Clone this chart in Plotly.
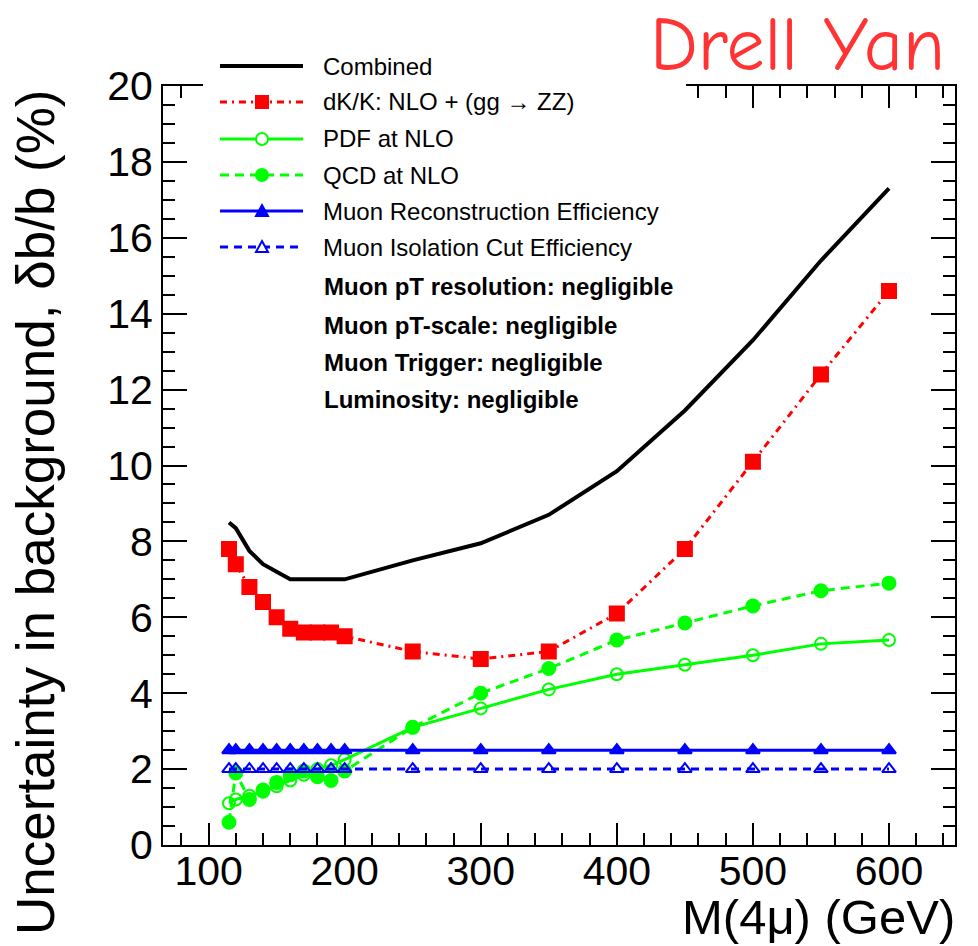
import plotly.graph_objects as go

# Four-muon invariant mass points (GeV)
mass = [115, 120, 130, 140, 150, 160, 170, 180, 190, 200, 250, 300, 350, 400, 450, 500, 550, 600]

# Relative background uncertainties (%)
combined = [8.5, 8.35, 7.75, 7.4, 7.2, 7.0, 7.0, 7.0, 7.0, 7.0, 7.5, 7.95, 8.7, 9.85, 11.45, 13.3, 15.4, 17.3]
dk_nlo = [7.8, 7.4, 6.8, 6.4, 6.0, 5.7, 5.6, 5.6, 5.6, 5.5, 5.1, 4.9, 5.1, 6.1, 7.8, 10.1, 12.4, 14.6]
pdf_nlo = [1.1, 1.2, 1.3, 1.4, 1.55, 1.7, 1.85, 2.0, 2.1, 2.25, 3.1, 3.6, 4.1, 4.5, 4.75, 5.0, 5.3, 5.4]
qcd_nlo = [0.6, 1.9, 1.2, 1.45, 1.65, 1.85, 1.95, 1.8, 1.7, 1.95, 3.1, 4.0, 4.65, 5.4, 5.85, 6.3, 6.7, 6.9]
mu_reco = [2.5, 2.5, 2.5, 2.5, 2.5, 2.5, 2.5, 2.5, 2.5, 2.5, 2.5, 2.5, 2.5, 2.5, 2.5, 2.5, 2.5, 2.5]
mu_iso = [2.0, 2.0, 2.0, 2.0, 2.0, 2.0, 2.0, 2.0, 2.0, 2.0, 2.0, 2.0, 2.0, 2.0, 2.0, 2.0, 2.0, 2.0]

x_ticks = [100, 200, 300, 400, 500, 600]

legend_labels = [
    "Combined",
    "dK/K: NLO + (gg \u2192 ZZ)",
    "PDF at NLO",
    "QCD at NLO",
    "Muon Reconstruction Efficiency",
    "Muon Isolation Cut Efficiency",
]
negligible_notes = [
    "Muon pT resolution: negligible",
    "Muon pT-scale: negligible",
    "Muon Trigger: negligible",
    "Luminosity: negligible",
]

FONT = "Liberation Sans, Arial, Helvetica, sans-serif"
BLACK, RED, GREEN, BLUE = "#000000", "#ff0000", "#00ff00", "#0000ff"

fig = go.Figure()

series = [
    dict(y=combined, color=BLACK, width=4, dash="solid", symbol=None),
    dict(y=dk_nlo, color=RED, width=3, dash="7px,5px,2px,5px", symbol="square"),
    dict(y=pdf_nlo, color=GREEN, width=3, dash="solid", symbol="circle-open"),
    dict(y=qcd_nlo, color=GREEN, width=3, dash="9px,6px", symbol="circle"),
    dict(y=mu_reco, color=BLUE, width=3, dash="solid", symbol="triangle-up"),
    dict(y=mu_iso, color=BLUE, width=3, dash="8px,6px", symbol="triangle-up-open"),
]
for s, name in zip(series, legend_labels):
    if s["symbol"] is None:
        fig.add_trace(go.Scatter(x=mass, y=s["y"], name=name, mode="lines",
                                 line=dict(color=s["color"], width=s["width"])))
    else:
        size = {"square": 14, "circle": 13, "circle-open": 12}.get(s["symbol"], 12)
        fig.add_trace(go.Scatter(
            x=mass, y=s["y"], name=name, mode="lines+markers",
            line=dict(color=s["color"], width=s["width"], dash=s["dash"]),
            marker=dict(symbol=s["symbol"], size=size, color=s["color"],
                        line=dict(color=s["color"], width=2)),
        ))

# pixel helpers for the hand-made legend box
L, T, W, H = 163, 86, 792, 759


def px(x):
    return (x - L) / W


def py(y):
    return 1 - (y - T) / H


shapes = [
    # white legend background sitting over the top frame
    dict(type="rect", xref="paper", yref="paper", layer="above",
         x0=px(203), x1=px(686), y0=py(40), y1=py(113),
         fillcolor="white", line=dict(width=0)),
]
annotations = []
row_y = [66, 102, 139, 175, 211, 247]
for s, name, yy in zip(series, legend_labels, row_y):
    shapes.append(dict(type="line", xref="paper", yref="paper", layer="above",
                       x0=px(220), x1=px(303), y0=py(yy), y1=py(yy),
                       line=dict(color=s["color"], width=s["width"], dash=s["dash"])))
    cx = 262
    sym = s["symbol"]
    if sym == "square":
        shapes.append(dict(type="rect", xref="paper", yref="paper", layer="above",
                           x0=px(cx - 7), x1=px(cx + 7), y0=py(yy + 7), y1=py(yy - 7),
                           fillcolor=s["color"], line=dict(width=0)))
    elif sym in ("circle", "circle-open"):
        shapes.append(dict(type="circle", xref="paper", yref="paper", layer="above",
                           x0=px(cx - 6), x1=px(cx + 6), y0=py(yy + 6), y1=py(yy - 6),
                           fillcolor=s["color"] if sym == "circle" else "white",
                           line=dict(color=s["color"], width=2)))
    elif sym in ("triangle-up", "triangle-up-open"):
        path = "M {:.5f},{:.5f} L {:.5f},{:.5f} L {:.5f},{:.5f} Z".format(
            px(cx - 6), py(yy + 5), px(cx + 6), py(yy + 5), px(cx), py(yy - 6))
        shapes.append(dict(type="path", xref="paper", yref="paper", layer="above",
                           path=path,
                           fillcolor=s["color"] if sym == "triangle-up" else "white",
                           line=dict(color=s["color"], width=2)))
    annotations.append(dict(xref="paper", yref="paper", x=px(321), y=py(yy),
                            xanchor="left", yanchor="middle", showarrow=False,
                            text=name, font=dict(family=FONT, size=24, color=BLACK)))

for note, yy in zip(negligible_notes, [286, 325, 362, 399]):
    annotations.append(dict(xref="paper", yref="paper", x=px(322), y=py(yy),
                            xanchor="left", yanchor="middle", showarrow=False,
                            text="<b>" + note + "</b>",
                            font=dict(family=FONT, size=24, color=BLACK)))

# axis titles
annotations.append(dict(xref="paper", yref="paper", x=px(957), y=py(946),
                        xanchor="right", yanchor="bottom", showarrow=False,
                        text="M(4\u03bc) (GeV)", font=dict(family=FONT, size=49, color=BLACK)))
annotations.append(dict(xref="paper", yref="paper", x=px(35), y=py(512),
                        xanchor="center", yanchor="middle", showarrow=False, textangle=-90,
                        text="Uncertainty in background, \u03b4b/b (%)",
                        font=dict(family=FONT, size=53, color=BLACK)))
# headline
annotations.append(dict(xref="paper", yref="paper", x=px(648), y=py(0),
                        xanchor="left", yanchor="top", showarrow=False,
                        text="Drell Yan",
                        font=dict(family="Comic Sans MS, Comic Neue, DejaVu Sans", size=76,
                                  color="#ff3333")))

axis_common = dict(
    showgrid=False, zeroline=False, showline=True, linecolor=BLACK, linewidth=2,
    mirror="ticks", ticks="inside", tickcolor=BLACK, tickwidth=1.5,
    tickfont=dict(family=FONT, size=41, color=BLACK),
)
fig.update_layout(
    width=978, height=946,
    margin=dict(l=L, r=978 - L - W, t=T, b=946 - T - H),
    paper_bgcolor="white", plot_bgcolor="white",
    showlegend=False,
    xaxis=dict(range=[66.5, 648.5], tickvals=x_ticks, ticklen=22, ticklabelstandoff=-11,
               minor=dict(dtick=20, ticks="inside", ticklen=12, tickwidth=1.5, tickcolor=BLACK),
               **axis_common),
    yaxis=dict(range=[0, 20], dtick=2, ticklen=24,
               minor=dict(dtick=0.5, ticks="inside", ticklen=12, tickwidth=1.5, tickcolor=BLACK),
               **axis_common),
    shapes=shapes,
    annotations=annotations,
)

fig.write_html("out.html")
